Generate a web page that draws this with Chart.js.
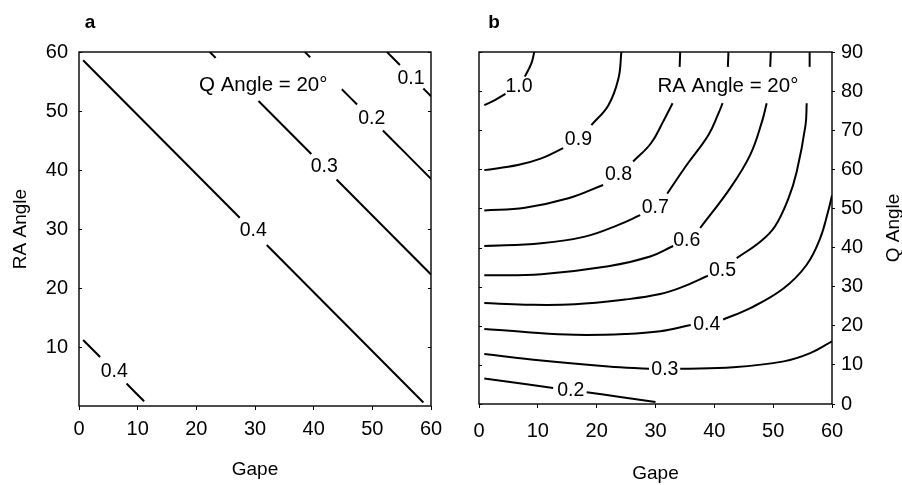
<!DOCTYPE html>
<html>
<head>
<meta charset="utf-8">
<script src="https://cdn.jsdelivr.net/npm/chart.js@4.4.1/dist/chart.umd.min.js"></script>
<style>
  body { margin: 0; background: #fff; }
  #wrap { position: relative; width: 902px; height: 485px; }
  .panel { position: absolute; top: 0; width: 451px; height: 485px; }
</style>
</head>
<body>
<div id="wrap">
  <div class="panel" style="left:0"><canvas id="chartA" width="451" height="485"></canvas></div>
  <div class="panel" style="left:451px"><canvas id="chartB" width="451" height="485"></canvas></div>
</div>
<script>
  // Tick labels
  const gapeTicks = [0, 10, 20, 30, 40, 50, 60];
  const raTicks = [10, 20, 30, 40, 50, 60];
  const qTicks = [0, 10, 20, 30, 40, 50, 60, 70, 80, 90];

  // Panel a: contours over (Gape, RA Angle), each split where its label sits
  const aC01 = [[[52.5, 60], [54.7, 57.8]], [[58.7, 53.8], [60, 52.5]]];
  const aC02 = [[[38.5, 60], [39.4, 59.1]], [[44.8, 53.7], [47.4, 51.1]], [[51.8, 46.7], [60, 38.5]]];
  const aC03 = [[[22.3, 60], [23.3, 59]], [[30.6, 51.7], [39.6, 42.7]], [[43.9, 38.4], [60, 22.3]]];
  const aC04 = [[[0.7, 58.6], [27.4, 31.9]], [[32, 27.3], [58.7, 0.6]]];
  const aC04b = [[[0.7, 11.2], [3.6, 8.3]], [[8.1, 3.8], [11.1, 0.8]]];
  const aLabels = ['0.1', '0.2', '0.3', '0.4', '0.4'];
  const aLabelX = [56.6, 49.9, 41.8, 29.7, 6.0];
  const aLabelY = [55.5, 48.7, 40.5, 29.8, 5.8];

  // Panel b: contours over (Gape, Q Angle)
  const bC10 = [[[0.9, 76.4], [2.7, 77.7], [4.5, 79.3]], [[7.8, 83.7], [8.9, 87.1], [9.4, 90]]];
  const bC09 = [[[0.9, 59.8], [6.6, 61.1], [10.6, 62.8], [14.3, 65.4]], [[19.1, 71.3], [22, 76.4], [23.7, 83.2], [24.2, 90]]];
  const bC08 = [[[0.9, 49.5], [7.8, 50.2], [15.2, 52.6], [21.1, 56]], [[26.2, 62], [29.2, 66.6], [31.3, 72.2], [32.9, 76.9]], [[34.1, 86.2], [34.2, 90]]];
  const bC07 = [[[0.9, 40.4], [10.6, 41.1], [18, 42.8], [23.7, 45.8], [27.4, 48.3]], [[32, 53.8], [35.3, 61.1], [39, 68.8], [40.7, 74.3], [41.4, 76.9]], [[42.3, 86.2], [42.4, 90]]];
  const bC06 = [[[0.9, 32.9], [10.6, 33.2], [22, 35.2], [29.1, 37.7], [33, 40.4]], [[37.6, 45], [42.7, 55.2], [46.1, 63.7], [48.1, 72.2], [48.9, 76.9]], [[49.5, 86.2], [49.6, 90]]];
  const bC05 = [[[0.9, 25.8], [7.8, 25.4], [16.3, 25.5], [24.8, 26.7], [30.8, 28.1], [34.7, 30], [38.9, 32.8]], [[43.8, 37.3], [47.8, 41.5], [50.3, 45.4], [52.6, 52.6], [54, 59.4], [55.5, 71.3], [55.7, 76.9]], [[56.2, 86.2], [56.2, 90]]];
  const bC04 = [[[0.9, 19.2], [7.8, 18.4], [16.3, 17.7], [24.8, 17.9], [30.8, 18.6], [36, 20.2]], [[41.5, 21.6], [46.1, 24.5], [51.8, 29.6], [55.7, 35.6], [58, 42.4], [59.3, 49], [60, 53.3]]];
  const bC03 = [[[0.9, 12.8], [10.6, 11.1], [22, 9.6], [28.9, 9]], [[34.2, 9], [43.2, 9.4], [51.8, 10.9], [56.3, 13], [60, 16]]];
  const bC02 = [[[0.9, 6.5], [7.8, 5.1], [12.6, 4.1]], [[18.3, 3], [24, 1.8], [30, 0.5]]];
  const bLabels = ['1.0', '0.9', '0.8', '0.7', '0.6', '0.5', '0.4', '0.3', '0.2'];
  const bLabelX = [6.8, 16.9, 23.7, 29.95, 35.3, 41.4, 38.7, 31.6, 15.6];
  const bLabelY = [81.1, 67.7, 58.6, 50.3, 41.8, 34.1, 20.3, 8.8, 3.5];

  const FONT = '"Liberation Sans", Arial, Helvetica, sans-serif';
  Chart.defaults.font.family = FONT;
  Chart.defaults.color = '#000';

  // every segment of every contour becomes its own line dataset
  function toSets(contours) {
    const sets = [];
    contours.forEach(c => {
      c.forEach(seg => {
        sets.push({
          data: seg.map(p => ({ x: p[0], y: p[1] })),
          borderColor: '#000',
          borderWidth: 2,
          pointRadius: 0,
          tension: 0.4,
          fill: false
        });
      });
    });
    return sets;
  }

  function fixedTicks(list) {
    return scale => { scale.ticks = list.map(v => ({ value: v })); };
  }

  // frame, inside ticks, contour labels, annotation and panel letter
  const inkPlugin = {
    id: 'ink',
    afterDraw(chart, args, opts) {
      const { ctx, chartArea: ca, scales } = chart;
      const xs = scales.x, ys = scales.y;
      ctx.save();
      ctx.strokeStyle = '#000';
      ctx.lineWidth = 1.4;
      ctx.strokeRect(ca.left, ca.top, ca.right - ca.left, ca.bottom - ca.top);

      ctx.lineWidth = 1;
      ctx.beginPath();
      opts.innerTicks.forEach(v => {
        const py = Math.round(ys.getPixelForValue(v)) + 0.5;
        opts.innerSides.forEach(side => {
          const x0 = side === 'left' ? ca.left : ca.right;
          const dir = side === 'left' ? 1 : -1;
          ctx.moveTo(x0, py);
          ctx.lineTo(x0 + dir * 3, py);
        });
      });
      ctx.stroke();

      ctx.fillStyle = '#000';
      ctx.textAlign = 'center';
      ctx.textBaseline = 'middle';
      ctx.font = '19.5px ' + FONT;
      opts.labels.forEach((t, i) => {
        ctx.fillText(t, xs.getPixelForValue(opts.labelX[i]), ys.getPixelForValue(opts.labelY[i]));
      });
      ctx.font = '20.5px ' + FONT;
      ctx.fillText(opts.note, xs.getPixelForValue(opts.noteAt[0]), ys.getPixelForValue(opts.noteAt[1]));

      ctx.font = 'bold 19px ' + FONT;
      ctx.textBaseline = 'alphabetic';
      ctx.fillText(opts.letter, ca.left + opts.letterDx, 28);

      if (opts.rightTitle) {
        ctx.font = '19px ' + FONT;
        ctx.textBaseline = 'middle';
        ctx.translate(chart.width - 8, (ca.top + ca.bottom) / 2);
        ctx.rotate(-Math.PI / 2);
        ctx.fillText(opts.rightTitle, 0, 0);
      }
      ctx.restore();
    }
  };

  const tickFont = { size: 20, family: FONT };
  const titleFont = { size: 19, family: FONT };

  new Chart(document.getElementById('chartA'), {
    type: 'line',
    data: { datasets: toSets([aC01, aC02, aC03, aC04, aC04b]) },
    plugins: [inkPlugin],
    options: {
      responsive: false,
      animation: false,
      events: [],
      layout: { padding: { top: 52, right: 20, left: 0, bottom: 0 } },
      plugins: {
        legend: { display: false },
        tooltip: { enabled: false },
        ink: {
          innerTicks: raTicks, innerSides: ['left', 'right'],
          labels: aLabels, labelX: aLabelX, labelY: aLabelY,
          note: 'Q Angle = 20°', noteAt: [31.4, 54.4],
          letter: 'a', letterDx: 11
        }
      },
      scales: {
        x: {
          type: 'linear', min: 0, max: 60,
          afterBuildTicks: fixedTicks(gapeTicks),
          afterFit: s => { s.height = 79; },
          grid: { display: true, drawOnChartArea: false, drawTicks: true, tickLength: 4, color: '#000', lineWidth: 1 },
          border: { display: false },
          ticks: { color: '#000', font: tickFont, padding: 7, maxRotation: 0, autoSkip: false },
          title: { display: true, text: 'Gape', color: '#000', font: titleFont, padding: { top: 0, bottom: 4 } }
        },
        y: {
          type: 'linear', min: 0, max: 60,
          afterBuildTicks: fixedTicks(raTicks),
          afterFit: s => { s.width = 79; },
          grid: { display: false, drawTicks: false },
          border: { display: false },
          ticks: { color: '#000', font: tickFont, padding: 11, autoSkip: false },
          title: { display: true, text: 'RA Angle', color: '#000', font: titleFont, padding: { top: 9, bottom: 0 } }
        }
      }
    }
  });

  new Chart(document.getElementById('chartB'), {
    type: 'line',
    data: { datasets: toSets([bC10, bC09, bC08, bC07, bC06, bC05, bC04, bC03, bC02]) },
    plugins: [inkPlugin],
    options: {
      responsive: false,
      animation: false,
      events: [],
      layout: { padding: { top: 52, right: 0, left: 28, bottom: 0 } },
      plugins: {
        legend: { display: false },
        tooltip: { enabled: false },
        ink: {
          innerTicks: qTicks, innerSides: ['left'],
          labels: bLabels, labelX: bLabelX, labelY: bLabelY,
          note: 'RA Angle = 20°', noteAt: [42.3, 81.1],
          letter: 'b', letterDx: 15,
          rightTitle: 'Q Angle'
        }
      },
      scales: {
        x: {
          type: 'linear', min: 0, max: 60,
          afterBuildTicks: fixedTicks(gapeTicks),
          afterFit: s => { s.height = 81; },
          grid: { display: true, drawOnChartArea: false, drawTicks: true, tickLength: 4, color: '#000', lineWidth: 1 },
          border: { display: false },
          ticks: { color: '#000', font: tickFont, padding: 11, maxRotation: 0, autoSkip: false },
          title: { display: true, text: 'Gape', color: '#000', font: titleFont, padding: { top: 0, bottom: 0 } }
        },
        y: {
          type: 'linear', position: 'right', min: 0, max: 90,
          afterBuildTicks: fixedTicks(qTicks),
          afterFit: s => { s.width = 70; },
          grid: { display: true, drawOnChartArea: false, drawTicks: true, tickLength: 3, color: '#000', lineWidth: 1 },
          border: { display: false },
          ticks: { color: '#000', font: tickFont, padding: 6, autoSkip: false }
        }
      }
    }
  });
</script>
</body>
</html>
